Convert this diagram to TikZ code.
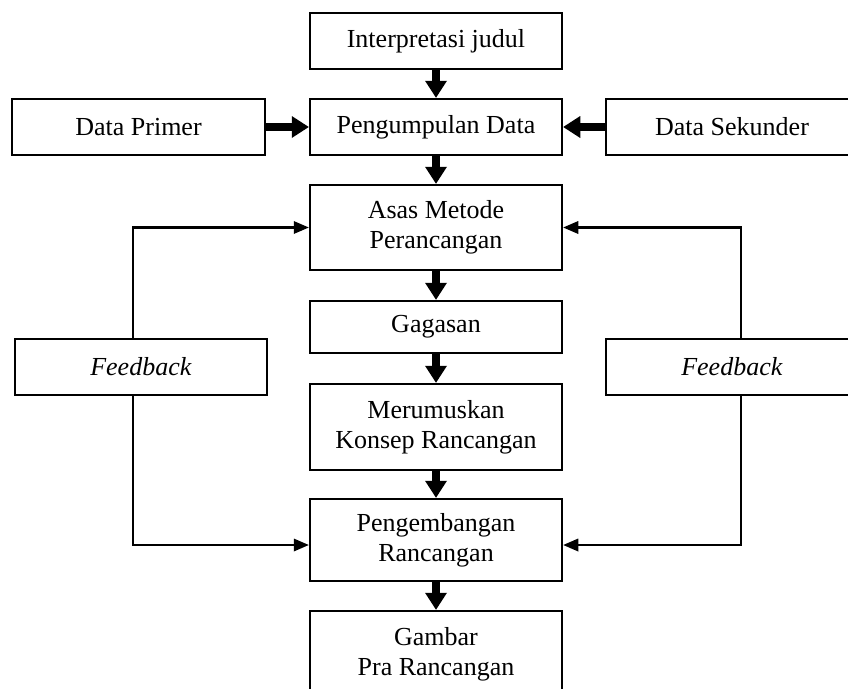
\documentclass[tikz,border=0pt]{standalone}
\usepackage{fontspec}
\setmainfont{Liberation Serif}
\usetikzlibrary{arrows.meta}

\begin{document}
\begin{tikzpicture}[x=1pt, y=-1pt,
    kotak/.style={draw, line width=2.5pt, minimum width=252pt, inner sep=0pt, align=center, font=\fontsize{26}{30}\selectfont},
    panah/.style={line width=8pt, -{Triangle[width=22pt,length=17pt,line width=0pt]}},
    balik/.style={line width=2.5pt, -{Triangle[width=13pt,length=15pt,line width=0pt]}}]
        \useasboundingbox (0,0) rectangle (848,688);
        \clip (0,0) rectangle (848,688);

        % Main column of steps
        \node[kotak, minimum height=56pt] (judul) at (436,41) {Interpretasi judul};
        \node[kotak, minimum height=56pt] (kumpul) at (436,127) {Pengumpulan Data};
        \node[kotak, minimum height=85pt] (asas) at (436,227.5) {Asas Metode\\Perancangan};
        \node[kotak, minimum height=52pt] (gagasan) at (436,327) {Gagasan};
        \node[kotak, minimum height=86pt] (rumus) at (436,427) {Merumuskan\\Konsep Rancangan};
        \node[kotak, minimum height=82pt] (kembang) at (436,540) {Pengembangan\\Rancangan};
        \node[kotak, minimum height=86pt] (gambar) at (436,654) {Gambar\\Pra Rancangan};

        % Data sources on both sides
        \node[kotak, minimum width=253pt, minimum height=56pt] (primer) at (138.5,127) {Data Primer};
        \node[kotak, minimum height=56pt] (sekunder) at (732,127) {Data Sekunder};

        % Feedback boxes
        \node[kotak, minimum height=56pt] (fbkiri) at (141,367) {\textit{Feedback}};
        \node[kotak, minimum height=56pt] (fbkanan) at (732,367) {\textit{Feedback}};

        % Thick arrows down the column
        \draw[panah] (judul) -- (kumpul);
        \draw[panah] (kumpul) -- (asas);
        \draw[panah] (asas) -- (gagasan);
        \draw[panah] (gagasan) -- (rumus);
        \draw[panah] (rumus) -- (kembang);
        \draw[panah] (kembang) -- (gambar);
        \draw[panah] (primer) -- (kumpul);
        \draw[panah] (sekunder) -- (kumpul);

        % Feedback loops
        \draw[balik] ([xshift=-8pt]fbkiri.north) |- (asas.west);
        \draw[balik] ([xshift=-8pt]fbkiri.south) |- ([yshift=-5pt]kembang.west);
        \draw[balik] ([xshift=9pt]fbkanan.north) |- (asas.east);
        \draw[balik] ([xshift=9pt]fbkanan.south) |- ([yshift=-5pt]kembang.east);
    \end{tikzpicture}
\end{document}
